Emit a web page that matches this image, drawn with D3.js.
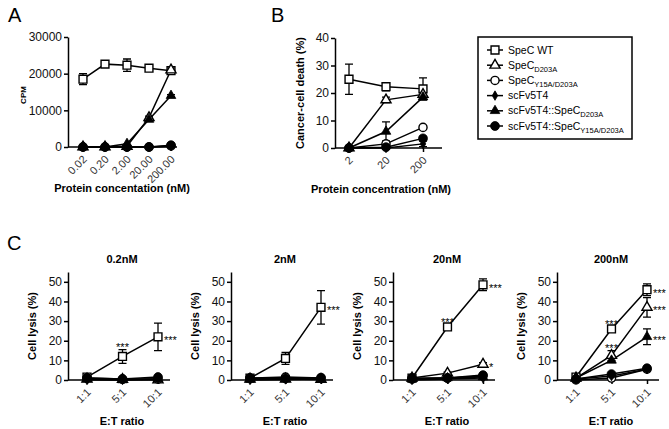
<!DOCTYPE html>
<html>
<head>
<meta charset="utf-8">
<script src="https://cdn.jsdelivr.net/npm/d3@7"></script>
<style>
  body { margin: 0; background: #fff; }
  svg { font-family: "Liberation Sans", Arial, Helvetica, sans-serif; }
</style>
</head>
<body>
<svg id="fig" width="669" height="429"></svg>
<script>
/*
 *  Data
 */
// series labels: [main text, subscript]
var seriesNames = [
  ["SpeC WT", ""],
  ["SpeC", "D203A"],
  ["SpeC", "Y15A/D203A"],
  ["scFv5T4", ""],
  ["scFv5T4::SpeC", "D203A"],
  ["scFv5T4::SpeC", "Y15A/D203A"]
];

// panel A, CPM vs protein concentration
var concA = ["0.02", "0.20", "2.00", "20.00", "200.00"];
var wtA = [18500, 22600, 22300, 21500, 20800],  wtAErr = [1500, 400, 1700, 400, 700];
var d203aA = [0, 0, 200, 8000, 21000],          d203aAErr = [0, 0, 0, 400, 500];
var y15aA = [0, 0, 0, 0, 300],                  y15aAErr = [0, 0, 0, 0, 0];
var scfvA = [0, 0, 0, 0, 200],                  scfvAErr = [0, 0, 0, 0, 0];
var fusDA = [0, 0, 900, 7500, 14000],           fusDAErr = [0, 0, 0, 300, 300];
var fusYA = [0, 0, 0, 0, 500],                  fusYAErr = [0, 0, 0, 0, 0];

// panel B, cancer-cell death (%)
var concB = ["2", "20", "200"];
var wtB = [25, 22.3, 21.5],   wtBErr = [5.5, 1.5, 4];
var d203aB = [0, 17.5, 19.5], d203aBErr = [0, 1, 0.8];
var y15aB = [0, 1.5, 7.5],    y15aBErr = [0, 1, 0.5];
var scfvB = [0, 0, 1.5],      scfvBErr = [0, 0.5, 1];
var fusDB = [0, 6, 18.5],     fusDBErr = [0, 3.5, 1];
var fusYB = [0, 0.3, 3.5],    fusYBErr = [0, 0.5, 0.5];

// panel C, cell lysis (%) vs E:T ratio
var etRatio = ["1:1", "5:1", "10:1"];
var cTitles = ["0.2nM", "2nM", "20nM", "200nM"];

var wtC1 = [1.5, 12, 22],    wtC1Err = [1, 3.5, 7];
var d203aC1 = [0.5, 0.3, 0], y15aC1 = [1, 0.5, 0.5], scfvC1 = [0, 0, 0.5];
var fusDC1 = [0.5, 0, 0.5],  fusYC1 = [1, 0.5, 1.5];

var wtC2 = [1, 11, 37],        wtC2Err = [0.5, 3, 8.5];
var d203aC2 = [0.5, 0.5, 0.3], y15aC2 = [1, 1.5, 1], scfvC2 = [0, 0.3, 0.5];
var fusDC2 = [0.5, 0.5, 0.5],  fusYC2 = [1, 0.8, 1.2];

var wtC3 = [1, 27, 48.5],    wtC3Err = [0.5, 1, 3];
var d203aC3 = [1, 3.5, 8],   d203aC3Err = [0, 0.5, 0.8];
var y15aC3 = [0.5, 1, 2],    scfvC3 = [0, 0.5, 1];
var fusDC3 = [0.5, 1, 1.5],  fusYC3 = [1, 1, 2.5];

var wtC4 = [1.5, 26, 46],    wtC4Err = [0.5, 1, 3];
var d203aC4 = [1, 12.5, 37], d203aC4Err = [0.5, 2.5, 5];
var y15aC4 = [0, 1, 5.5],    scfvC4 = [0.5, 2, 5.5];
var fusDC4 = [1, 10, 22],    fusDC4Err = [0.5, 1, 4];
var fusYC4 = [0.5, 3, 6],    fusYC4Err = [0, 0.5, 0.5];

// significance marks: panel, series, category, text
var starPanel  = [0, 0, 1, 2, 2, 2, 3, 3, 3, 3, 3];
var starSeries = [0, 0, 0, 0, 0, 1, 0, 1, 0, 1, 4];
var starCat    = ["5:1", "10:1", "10:1", "5:1", "10:1", "10:1", "5:1", "5:1", "10:1", "10:1", "10:1"];
var starText   = ["***", "***", "***", "***", "***", "*", "***", "***", "***", "***", "***"];

/*
 *  Styles
 */
var symType = ["square", "triangle", "circle", "diamond", "triangle", "circle"];
var symFill = [false, false, false, true, true, true];
var font = "Liberation Sans, Arial, Helvetica, sans-serif";

var svg = d3.select("#fig");

function zeros(n) { return d3.range(n).map(function() { return 0; }); }

// draw one marker at (cx, cy)
function marker(g, i, cx, cy) {
  var shape;
  if (symType[i] == "square") shape = d3.symbol(d3.symbolSquare, 62);
  else if (symType[i] == "triangle") shape = d3.symbol(d3.symbolTriangle, symFill[i] ? 40 : 44);
  else if (symType[i] == "circle") shape = d3.symbol(d3.symbolCircle, symFill[i] ? 62 : 52);
  else shape = d3.symbol(d3.symbolDiamond, 26);
  g.append("path")
    .attr("d", shape())
    .attr("transform", "translate(" + cx + "," + cy + ")")
    .style("fill", symFill[i] ? "#000" : "#fff")
    .style("stroke", "#000")
    .style("stroke-width", symFill[i] ? 0.8 : 1.4);
}

function drawPanel(p) {
  var g = svg.append("g");
  var x = d3.scalePoint().domain(p.cats).range(p.xRange);
  var y = d3.scaleLinear().domain(p.yDomain).range([p.yBase, p.yTop]);

  // y axis
  var ya = g.append("g")
    .attr("transform", "translate(" + p.x0 + ",0)")
    .call(d3.axisLeft(y).tickValues(p.yTicks).tickFormat(d3.format("d"))
      .tickSize(4).tickSizeOuter(0).tickPadding(2));
  ya.selectAll("text").style("font-size", "12px").style("font-family", font).attr("fill", "#111");

  // x axis
  var xa = g.append("g")
    .attr("transform", "translate(0," + p.yBase + ")")
    .call(d3.axisBottom(x).tickSize(4));
  xa.select(".domain").remove();
  xa.append("line").attr("x1", p.x0).attr("x2", p.xEnd).attr("stroke", "#000");
  xa.selectAll("text")
    .style("font-size", "11px").style("font-family", font).attr("fill", "#333")
    .attr("text-anchor", "end")
    .attr("y", 0).attr("dy", 0)
    .attr("transform", "translate(4,13) rotate(-45)");
  g.selectAll(".domain, .tick line, line").attr("stroke", "#000").attr("stroke-width", 1.5);

  var line = d3.line()
    .x(function(d, j) { return x(p.cats[j]); })
    .y(function(d) { return y(d); });

  // lines and error bars
  p.series.forEach(function(s, i) {
    g.append("path").attr("d", line(s.v))
      .attr("fill", "none").attr("stroke", "#000").attr("stroke-width", 1.5);
    s.e.forEach(function(e, j) {
      if (!e) return;
      var cx = x(p.cats[j]), lo = y(s.v[j] - e), hi = y(s.v[j] + e);
      g.append("path")
        .attr("d", "M" + cx + "," + lo + "V" + hi + "M" + (cx - 4) + "," + hi + "H" + (cx + 4) +
                   "M" + (cx - 4) + "," + lo + "H" + (cx + 4))
        .attr("fill", "none").attr("stroke", "#000").attr("stroke-width", 1.3);
    });
  });
  // markers on top
  p.series.forEach(function(s, i) {
    s.v.forEach(function(v, j) { marker(g, i, x(p.cats[j]), y(v)); });
  });

  // axis titles
  g.append("text")
    .attr("transform", "translate(" + p.yLabelX + "," + p.yLabelY + ") rotate(-90)")
    .attr("text-anchor", "middle")
    .style("font-size", p.yLabelSize + "px").style("font-weight", "bold")
    .text(p.yLabel);
  g.append("text")
    .attr("x", p.xLabelX).attr("y", p.xLabelY)
    .attr("text-anchor", "middle")
    .style("font-size", "11px").style("font-weight", "bold")
    .text(p.xLabel);
  if (p.title) {
    g.append("text")
      .attr("x", p.titleX).attr("y", p.yTop - 9)
      .attr("text-anchor", "middle")
      .style("font-size", "11px").style("font-weight", "bold")
      .text(p.title);
  }
  return { g: g, x: x, y: y, p: p };
}

/*
 *  Panel A
 */
drawPanel({
  cats: concA, x0: 68, xEnd: 177, xRange: [83, 171],
  yBase: 147, yTop: 37, yDomain: [0, 30000], yTicks: [0, 10000, 20000, 30000],
  series: [
    { v: wtA, e: wtAErr }, { v: d203aA, e: d203aAErr }, { v: y15aA, e: y15aAErr },
    { v: scfvA, e: scfvAErr }, { v: fusDA, e: fusDAErr }, { v: fusYA, e: fusYAErr }
  ],
  yLabel: "CPM", yLabelX: 26, yLabelY: 95, yLabelSize: 8,
  xLabel: "Protein concentation (nM)", xLabelX: 122, xLabelY: 192
});

/*
 *  Panel B
 */
drawPanel({
  cats: concB, x0: 335, xEnd: 442, xRange: [349, 423],
  yBase: 148, yTop: 38, yDomain: [0, 40], yTicks: [0, 10, 20, 30, 40],
  series: [
    { v: wtB, e: wtBErr }, { v: d203aB, e: d203aBErr }, { v: y15aB, e: y15aBErr },
    { v: scfvB, e: scfvBErr }, { v: fusDB, e: fusDBErr }, { v: fusYB, e: fusYBErr }
  ],
  yLabel: "Cancer-cell death (%)", yLabelX: 304, yLabelY: 93, yLabelSize: 11,
  xLabel: "Protein concentration (nM)", xLabelX: 381, xLabelY: 193
});

/*
 *  Panel C, four concentrations
 */
var cData = [
  [[wtC1, wtC1Err], [d203aC1], [y15aC1], [scfvC1], [fusDC1], [fusYC1]],
  [[wtC2, wtC2Err], [d203aC2], [y15aC2], [scfvC2], [fusDC2], [fusYC2]],
  [[wtC3, wtC3Err], [d203aC3, d203aC3Err], [y15aC3], [scfvC3], [fusDC3], [fusYC3]],
  [[wtC4, wtC4Err], [d203aC4, d203aC4Err], [y15aC4], [scfvC4], [fusDC4, fusDC4Err], [fusYC4, fusYC4Err]]
];
var cAxisX = [68, 231, 393, 557];

var cPanels = cData.map(function(rows, k) {
  var x0 = cAxisX[k];
  return drawPanel({
    cats: etRatio, x0: x0, xEnd: x0 + 102, xRange: [x0 + 19, x0 + 90],
    yBase: 380, yTop: 272, yDomain: [0, 55], yTicks: [0, 10, 20, 30, 40, 50],
    series: rows.map(function(r) { return { v: r[0], e: r[1] || zeros(3) }; }),
    yLabel: "Cell lysis (%)", yLabelX: x0 - 32, yLabelY: 326, yLabelSize: 11,
    xLabel: "E:T ratio", xLabelX: x0 + 54, xLabelY: 425,
    title: cTitles[k], titleX: x0 + 54
  });
});

// significance stars
starPanel.forEach(function(k, i) {
  var c = cPanels[k], s = cData[k][starSeries[i]];
  var j = etRatio.indexOf(starCat[i]);
  var v = s[0][j], e = s[1] ? s[1][j] : 0;
  var t = c.g.append("text")
    .attr("fill", "#000")
    .style("font-size", "11px").style("font-family", font)
    .text(starText[i]);
  if (starCat[i] == "5:1") {
    t.attr("x", c.x(starCat[i])).attr("y", c.y(v + e) + 1).attr("text-anchor", "middle");
  } else {
    t.attr("x", c.x(starCat[i]) + 6).attr("y", c.y(v) + 7).attr("text-anchor", "start");
  }
});

/*
 *  Legend
 */
var legend = svg.append("g");
legend.append("rect")
  .attr("x", 478).attr("y", 37).attr("width", 154).attr("height", 102)
  .attr("fill", "none").attr("stroke", "#000").attr("stroke-width", 1.5);
seriesNames.forEach(function(n, i) {
  var ly = 50 + i * 15.2;
  legend.append("line")
    .attr("x1", 487).attr("x2", 503).attr("y1", ly).attr("y2", ly)
    .attr("stroke", "#000").attr("stroke-width", 1.5);
  marker(legend, i, 495, ly);
  var t = legend.append("text")
    .attr("x", 508).attr("y", ly + 3.5)
    .style("font-size", "10.5px");
  t.append("tspan").text(n[0]);
  if (n[1]) t.append("tspan").attr("dy", 3).style("font-size", "7.5px").text(n[1]);
});

// panel letters
svg.selectAll(".letter")
  .data([["A", 8, 22], ["B", 271, 22], ["C", 7, 250]])
  .enter().append("text")
    .attr("x", function(d) { return d[1]; })
    .attr("y", function(d) { return d[2]; })
    .style("font-size", "20px")
    .text(function(d) { return d[0]; });
</script>
</body>
</html>
